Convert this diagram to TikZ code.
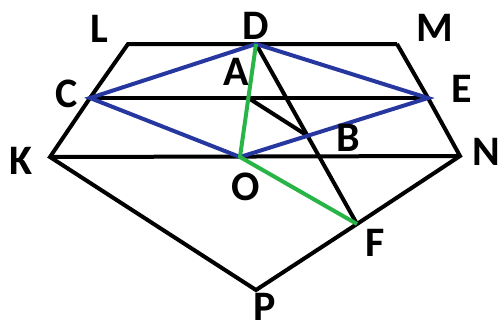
\documentclass[tikz,border=0pt]{standalone}
\usepackage{fontspec}
\setmainfont{Carlito}
\usetikzlibrary{calc}
\definecolor{myblue}{RGB}{38,56,160}
\definecolor{mygreen}{RGB}{40,180,70}
\begin{document}
\begin{tikzpicture}[x=1pt,y=-1pt,
  blk/.style={line width=4pt,black,line join=miter},
  blu/.style={line width=4pt,myblue},
  grn/.style={line width=4pt,mygreen},
  lab/.style={font=\bfseries\fontsize{42}{42}\selectfont,inner sep=0pt,anchor=center}]
\useasboundingbox[fill=white] (0,0) rectangle (502,324);
\coordinate (L) at (128,44);
\coordinate (M) at (397,44);
\coordinate (D) at (256,44);
\coordinate (C) at (90,98);
\coordinate (E) at (428,98);
\coordinate (K) at (50,157);
\coordinate (N) at (460,156);
\coordinate (O) at (240,157);
\coordinate (F) at (357,224);
\coordinate (P) at (256,290);
\coordinate (A) at (intersection of D--O and C--E);
\coordinate (B) at (intersection of D--F and O--E);
% black
\draw[blk] (M) -- (L) -- (C) -- (K) -- (P) -- (F) -- (N) -- (E) -- (M);
\draw[blk] (C) -- (E);
\draw[blk] (K) -- (N);
\draw[blk] (D) -- (F);
\draw[blk] (A) -- (B);
% blue
\draw[blu] (C) -- (D) -- (E) -- (O) -- cycle;
% green
\draw[grn] (D) -- (O) -- (F);
% labels
\node[lab] (lL) at (99,29) {L};
\node[lab] (lM) at (435,28) {M};
\node[lab] (lD) at (256,26) {D};
\node[lab] (lC) at (67,94) {C};
\node[lab] (lE) at (462,89) {E};
\node[lab] (lA) at (236,72) {A};
\node[lab] (lB) at (348,138) {B};
\node[lab] (lK) at (21,161) {K};
\node[lab] (lN) at (486,152) {N};
\node[lab] (lO) at (246,187) {O};
\node[lab] (lF) at (375,243) {F};
\node[lab] (lP) at (265,307) {P};
\end{tikzpicture}
\end{document}
